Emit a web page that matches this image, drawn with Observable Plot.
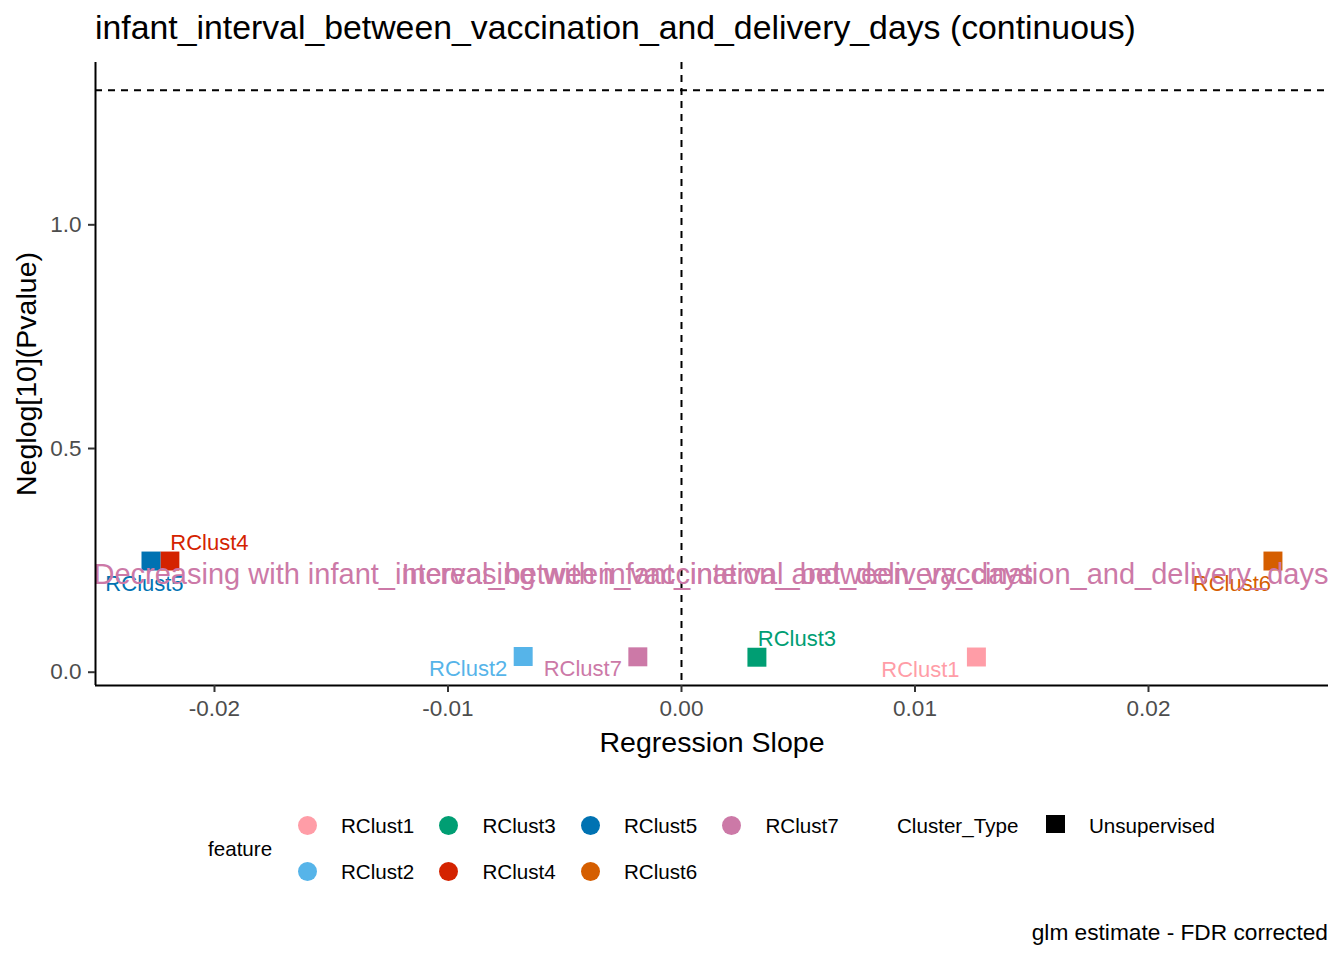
<!DOCTYPE html>
<html><head><meta charset="utf-8">
<script src="https://cdn.jsdelivr.net/npm/d3@7"></script>
<script src="https://cdn.jsdelivr.net/npm/@observablehq/plot@0.6"></script>
<style>
html,body{margin:0;padding:0;background:#fff;}
#root{position:relative;width:1344px;height:960px;overflow:hidden;font-family:"Liberation Sans",Arial,sans-serif;color:#000;}
.abs{position:absolute;white-space:nowrap;line-height:1;}
#root svg{position:absolute;left:0;top:0;}
</style></head><body><div id="root"></div>
<script>
// ---- data ----
const features = ["RClust1","RClust2","RClust3","RClust4","RClust5","RClust6","RClust7"];
const slopes   = [0.01263, -0.00678, 0.00323, -0.02191, -0.02272, 0.02533, -0.00187];
const neglogP  = [0.0340, 0.0351, 0.0335, 0.2485, 0.2485, 0.2485, 0.0344];
const colors   = ["#FF9DA7","#56B4E9","#009E73","#D42300","#0072B2","#D55E00","#CC79A7"];
const xTicks = [-0.02, -0.01, 0, 0.01, 0.02];
const yTicks = [0, 0.5, 1.0];
const sigThreshold = -Math.log10(0.05);
const annotY = 0.217;
const clusterTypes = ["Unsupervised"];
const titleText = "infant_interval_between_vaccination_and_delivery_days (continuous)";
const decText = "Decreasing with infant_interval_between_vaccination_and_delivery_days";
const incText = "Increasing with infant_interval_between_vaccination_and_delivery_days";
const captionText = "glm estimate - FDR corrected";

// ---- layout (label nudges in px, like ggrepel output) ----
const labelDx = [-56, -55, 40, 39.5, -6.5, -41, -55];
const labelDy = [12.5, 12, -18.7, -18.5, 22.5, 22.5, 12];
const xDomain = [-0.025096, 0.027709];
const yDomain = [-0.0297, 1.3628];

const font = "'Liberation Sans', Arial, sans-serif";
const data = features.map((f, i) => ({feature: f, slope: slopes[i], p: neglogP[i], i}));

const chart = Plot.plot({
  width: 1344, height: 780,
  marginLeft: 95, marginRight: 16, marginTop: 62, marginBottom: 95,
  style: {fontFamily: font, background: "transparent", overflow: "visible"},
  x: {domain: xDomain},
  y: {domain: yDomain},
  color: {domain: features, range: colors},
  marks: [
    Plot.ruleX([0], {stroke: "black", strokeWidth: 2, strokeDasharray: "7,6"}),
    Plot.ruleY([sigThreshold], {stroke: "black", strokeWidth: 2, strokeDasharray: "7,6"}),
    Plot.dot(data, {x: "slope", y: "p", fill: "feature", symbol: "square", r: 10.7, stroke: null}),
    ...data.map(d => Plot.text([d], {x: "slope", y: "p", text: "feature", fill: "feature",
        fontSize: 22, dx: labelDx[d.i], dy: labelDy[d.i], textAnchor: "middle"})),
    Plot.text([decText], {x: () => xDomain[0], y: () => annotY, text: d => d, textAnchor: "start",
        fill: "#CC79A7", fontSize: 29, dx: -2}),
    Plot.text([incText], {x: () => xDomain[1], y: () => annotY, text: d => d, textAnchor: "end",
        fill: "#CC79A7", fontSize: 29}),
    Plot.ruleX([xDomain[0]], {stroke: "black", strokeWidth: 2}),
    Plot.ruleY([yDomain[0]], {stroke: "black", strokeWidth: 2}),
    Plot.axisX({ticks: xTicks, tickFormat: d => d.toFixed(2), tickSize: 7, tickPadding: 8,
        fontSize: 22.5, stroke: "#333333", fill: "#4D4D4D", strokeWidth: 2, label: null}),
    Plot.axisX({ticks: [], label: "Regression Slope", labelAnchor: "center", labelArrow: "none",
        labelOffset: 66, fontSize: 28.5, fill: "black"}),
    Plot.axisY({ticks: yTicks, tickFormat: d => d.toFixed(1), tickSize: 7, tickPadding: 7,
        fontSize: 22.5, stroke: "#333333", fill: "#4D4D4D", strokeWidth: 2, label: null}),
    Plot.axisY({ticks: [], label: "Neglog[10](Pvalue)", labelAnchor: "center", labelArrow: "none",
        labelOffset: 80, fontSize: 28.5, fill: "black"})
  ]
});

const root = document.getElementById("root");
root.appendChild(chart);

function addText(txt, css) {
  const d = document.createElement("div");
  d.className = "abs";
  d.textContent = txt;
  Object.assign(d.style, css);
  root.appendChild(d);
  return d;
}
// title
addText(titleText, {left: "95px", top: "11px", fontSize: "33.8px"});
// legend: feature
addText("feature", {left: "208px", top: "838.6px", fontSize: "20.6px"});
features.forEach((f, i) => {
  const col = Math.floor(i / 2), row = i % 2;
  const cx = 307 + col * 141.5, cy = 825 + row * 46;
  const c = document.createElement("div");
  c.className = "abs";
  Object.assign(c.style, {left: (cx - 9.5) + "px", top: (cy - 9.5) + "px", width: "19px", height: "19px",
    borderRadius: "50%", background: colors[i]});
  root.appendChild(c);
  addText(f, {left: (341 + col * 141.5) + "px", top: (815.6 + row * 46) + "px", fontSize: "20.6px"});
});
// legend: Cluster_Type
addText("Cluster_Type", {left: "897px", top: "815.6px", fontSize: "20.6px"});
clusterTypes.forEach((t, i) => {
  const s = document.createElement("div");
  s.className = "abs";
  Object.assign(s.style, {left: "1046px", top: (814.5 + i * 46) + "px", width: "18.5px", height: "18.5px", background: "#000"});
  root.appendChild(s);
  addText(t, {left: "1089px", top: (815.6 + i * 46) + "px", fontSize: "20.6px"});
});
// caption
addText(captionText, {right: "16px", top: "920.8px", fontSize: "22.7px"});
</script></body></html>
